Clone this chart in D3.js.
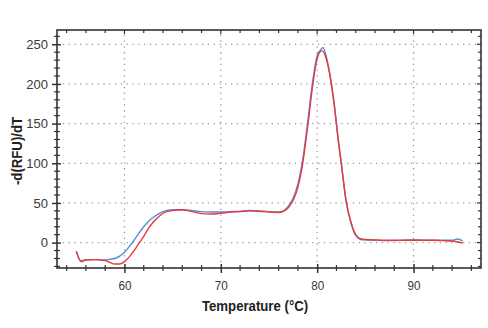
<!DOCTYPE html>
<html>
<head>
<meta charset="utf-8">
<script src="https://cdn.jsdelivr.net/npm/d3@7"></script>
<style>
  html, body { margin: 0; padding: 0; background: #fff; }
  svg { display: block; }
  .tick-label { font-family: "Liberation Sans Narrow", "Arial Narrow", "Liberation Sans", sans-serif; font-size: 13px; fill: #3a3a3a; }
  .axis-title { font-family: "Liberation Sans Narrow", "Arial Narrow", "Liberation Sans", sans-serif; font-size: 15px; font-weight: bold; fill: #222; }
</style>
</head>
<body>
<svg id="chart" width="488" height="328"></svg>
<script>
// Melt curve: negative first derivative of fluorescence vs temperature
const temperatureBlue = [55.0, 55.5, 56.0, 57.0, 58.0, 58.5, 59.0, 59.5, 60.0, 60.5, 61.0, 61.5, 62.0, 62.5, 63.0, 63.5, 64.0, 65.0, 66.0, 67.0, 68.0, 69.0, 70.0, 71.0, 72.0, 73.0, 74.0, 75.0, 76.0, 76.5, 77.0, 77.5, 78.0, 78.5, 79.0, 79.5, 80.0, 80.3, 80.6, 81.0, 81.3, 81.8, 82.2, 82.5, 83.0, 83.5, 84.0, 84.5, 85.0, 86.0, 87.0, 88.0, 89.0, 90.0, 91.0, 92.0, 93.0, 94.0, 94.6, 95.1];
const derivBlue = [-11, -23, -21.5, -21.5, -22, -21, -20, -17, -12, -5, 3, 12, 20, 27, 32, 36, 39, 41.5, 41.5, 40.5, 39, 38.5, 38.5, 39, 39.5, 40.5, 40, 39, 38.5, 40, 46, 56, 74, 105, 150, 200, 236, 242, 246, 232, 214, 172, 128, 100, 52, 25, 9, 4, 3.5, 3, 2.5, 2.5, 3, 3.5, 3, 3, 3, 3, 4.5, 2];

const temperatureRed = [55.0, 55.5, 56.0, 57.0, 58.0, 58.5, 59.0, 59.5, 60.0, 60.5, 61.0, 61.5, 62.0, 62.5, 63.0, 63.5, 64.0, 65.0, 66.0, 67.0, 68.0, 69.0, 70.0, 71.0, 72.0, 73.0, 74.0, 75.0, 76.0, 76.5, 77.0, 77.5, 78.0, 78.5, 79.0, 79.5, 80.0, 80.5, 81.0, 81.3, 81.8, 82.2, 82.5, 83.0, 83.5, 84.0, 84.5, 85.0, 86.0, 87.0, 88.0, 89.0, 90.0, 91.0, 92.0, 93.0, 94.0, 95.1];
const derivRed = [-11, -24, -22, -21.5, -22.5, -25, -27, -27, -24, -18, -10, -1, 8, 18, 26, 32, 37, 40.5, 41.5, 39, 36.5, 36, 37, 38.5, 39, 40, 39.5, 38.5, 38, 39.5, 44, 53, 70, 100, 145, 195, 232, 242, 229, 212, 170, 128, 100, 53, 26, 10, 5, 4, 3.5, 3, 3, 3, 3, 3, 3, 2.5, 2, -0.5];

const xTickValues = [60, 70, 80, 90];
const yTickValues = [0, 50, 100, 150, 200, 250];
const xDomain = [53, 97];
const yDomain = [-32, 268];

const svg = d3.select("#chart");
const margin = { left: 57, right: 7, top: 30, bottom: 60 };
const W = 488, H = 328;

const x = d3.scaleLinear().domain(xDomain).range([margin.left, W - margin.right]);
const y = d3.scaleLinear().domain(yDomain).range([H - margin.bottom, margin.top]);

const x0 = x.range()[0], x1 = x.range()[1];
const y0 = y.range()[0], y1 = y.range()[1];

// dotted grid at the major ticks
const grid = svg.append("g").attr("stroke", "#999").attr("stroke-width", 1.3)
  .attr("stroke-dasharray", "1.3,4.5");
grid.selectAll("line.gx").data(xTickValues).join("line")
  .attr("x1", d => x(d)).attr("x2", d => x(d)).attr("y1", y0).attr("y2", y1);
grid.selectAll("line.gy").data(yTickValues).join("line")
  .attr("x1", x0).attr("x2", x1).attr("y1", d => y(d)).attr("y2", d => y(d));

// curves
const line = d3.line().curve(d3.curveMonotoneX);
const blueData = temperatureBlue.map((t, i) => [x(t), y(derivBlue[i])]);
const redData = temperatureRed.map((t, i) => [x(t), y(derivRed[i])]);
svg.append("path").attr("d", line(blueData)).attr("fill", "none")
  .attr("stroke", "#5b8bd6").attr("stroke-width", 1.4);
svg.append("path").attr("d", line(redData)).attr("fill", "none")
  .attr("stroke", "#e8383c").attr("stroke-width", 1.4);

// frame
svg.append("rect").attr("x", x0).attr("y", y1).attr("width", x1 - x0).attr("height", y0 - y1)
  .attr("fill", "none").attr("stroke", "#333").attr("stroke-width", 1.6);

// bottom axis: major + minor ticks crossing the frame
const xMinor = d3.range(54, 97, 2).filter(v => !xTickValues.includes(v));
const bottom = svg.append("g").attr("transform", `translate(0,${y0})`)
  .call(d3.axisBottom(x).tickValues(xTickValues).tickSize(5).tickPadding(8).tickFormat(d3.format("d")));
bottom.select(".domain").remove();
bottom.selectAll(".tick line").attr("y1", -4).attr("stroke", "#333").attr("stroke-width", 1.5);
bottom.selectAll(".tick text").attr("class", "tick-label").attr("fill", null)
  .attr("transform", "scale(0.9,1)");
svg.append("g").selectAll("line").data(xMinor).join("line")
  .attr("x1", d => x(d)).attr("x2", d => x(d)).attr("y1", y0 - 3).attr("y2", y0 + 3)
  .attr("stroke", "#333").attr("stroke-width", 1.2);

// top frame ticks (inward)
svg.append("g").selectAll("line").data(xMinor.concat(xTickValues)).join("line")
  .attr("x1", d => x(d)).attr("x2", d => x(d)).attr("y1", y1).attr("y2", d => y1 + (xTickValues.includes(d) ? 4 : 3))
  .attr("stroke", "#333").attr("stroke-width", 1.2);

// left axis: major + minor ticks
const yMinor = d3.range(-30, 268, 10).filter(v => !yTickValues.includes(v));
const left = svg.append("g").attr("transform", `translate(${x0},0)`)
  .call(d3.axisLeft(y).tickValues(yTickValues).tickSize(5).tickPadding(4).tickFormat(d3.format("d")));
left.select(".domain").remove();
left.selectAll(".tick line").attr("x1", 4).attr("stroke", "#333").attr("stroke-width", 1.5);
left.selectAll(".tick text").attr("class", "tick-label").attr("fill", null);
svg.append("g").selectAll("line").data(yMinor).join("line")
  .attr("x1", x0 - 3).attr("x2", x0 + 3).attr("y1", d => y(d)).attr("y2", d => y(d))
  .attr("stroke", "#333").attr("stroke-width", 1.2);

// right frame ticks (inward)
svg.append("g").selectAll("line").data(yMinor.concat(yTickValues)).join("line")
  .attr("x1", x1).attr("x2", d => x1 - (yTickValues.includes(d) ? 4 : 3))
  .attr("y1", d => y(d)).attr("y2", d => y(d))
  .attr("stroke", "#333").attr("stroke-width", 1.2);

// axis titles (horizontally condensed)
svg.append("text").attr("class", "axis-title")
  .attr("transform", `translate(255,311) scale(0.88,1)`).attr("text-anchor", "middle")
  .text("Temperature (°C)");
svg.append("text").attr("class", "axis-title")
  .attr("transform", `translate(22,${(y0 + y1) / 2 + 2}) rotate(-90) scale(0.88,1)`).attr("text-anchor", "middle")
  .text("-d(RFU)/dT");
</script>
</body>
</html>
